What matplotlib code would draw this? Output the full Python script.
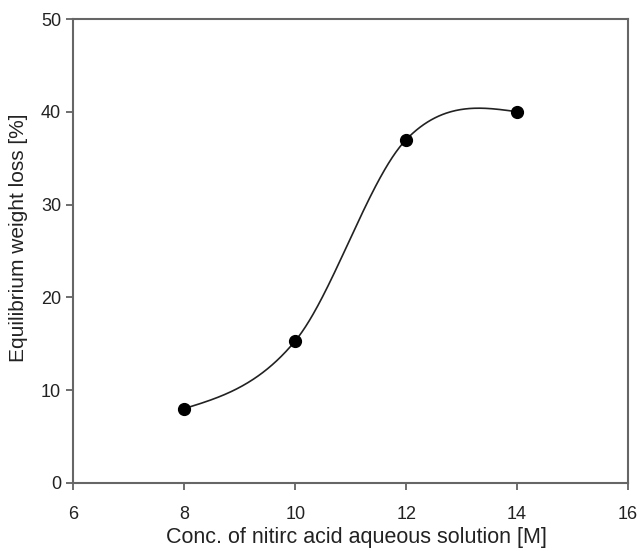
import numpy as np
import matplotlib
matplotlib.use("Agg")
import matplotlib.pyplot as plt

conc = [8, 10, 12, 14]
weight_loss = [8.0, 15.3, 37.0, 40.0]
xticks = [6, 8, 10, 12, 14, 16]
yticks = [0, 10, 20, 30, 40, 50]


def smooth_curve(x, y, per_seg=120):
    """Catmull-Rom style cubic Hermite curve with natural end slopes."""
    x = np.asarray(x, float)
    y = np.asarray(y, float)
    n = len(x)
    sec = np.diff(y) / np.diff(x)
    m = np.zeros(n)
    for i in range(1, n - 1):
        m[i] = (y[i + 1] - y[i - 1]) / (x[i + 1] - x[i - 1])
    m[0] = (3 * sec[0] - m[1]) / 2
    m[-1] = (3 * sec[-1] - m[-2]) / 2
    xs, ys = [], []
    for i in range(n - 1):
        h = x[i + 1] - x[i]
        t = np.linspace(0, 1, per_seg)
        h00 = 2 * t**3 - 3 * t**2 + 1
        h10 = t**3 - 2 * t**2 + t
        h01 = -2 * t**3 + 3 * t**2
        h11 = t**3 - t**2
        xs.append(x[i] + t * h)
        ys.append(h00 * y[i] + h10 * h * m[i] + h01 * y[i + 1] + h11 * h * m[i + 1])
    return np.concatenate(xs), np.concatenate(ys)


plt.rcParams['font.family'] = ['Liberation Sans', 'DejaVu Sans']

fig = plt.figure(figsize=(6.4, 5.51), dpi=100)
ax = fig.add_axes([0.1148, 0.1238, 0.8664, 0.8417])

cx, cy = smooth_curve(conc, weight_loss)
ax.plot(cx, cy, color='#222222', lw=1.2)
ax.plot(conc, weight_loss, 'o', color='black', markersize=8.5, zorder=3)

ax.set_xlim(6, 16)
ax.set_ylim(0, 50)
ax.set_xticks(xticks)
ax.set_yticks(yticks)
ax.tick_params(direction='out', length=5, width=1.2, colors='#555555',
               labelcolor='#222222', labelsize=13, top=False, right=False)
ax.tick_params(axis='x', pad=12)
ax.tick_params(axis='y', pad=4)
for s in ax.spines.values():
    s.set_color('#666666')
    s.set_linewidth(1.5)

ax.set_xlabel('Conc. of nitirc acid aqueous solution [M]', fontsize=15.5,
              color='#222222')
ax.set_ylabel('Equilibrium weight loss [%]', fontsize=15, color='#222222')
ax.xaxis.set_label_coords(0.51, -0.095)
ax.yaxis.set_label_coords(-0.082, 0.528)

fig.savefig('out.png', dpi=100)
